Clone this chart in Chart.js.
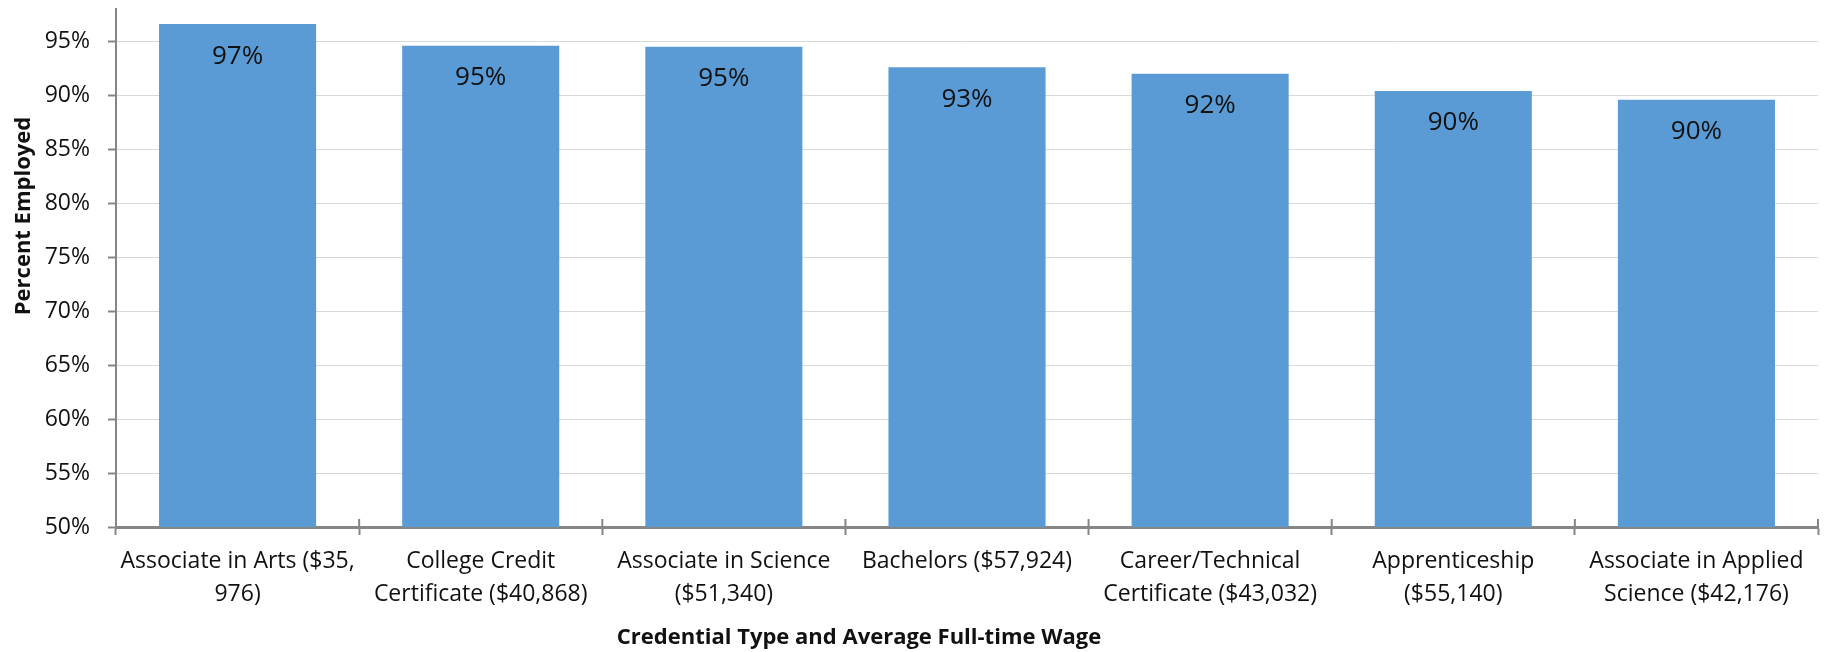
<!DOCTYPE html>
<html>
<head>
<meta charset="utf-8">
<script src="https://cdn.jsdelivr.net/npm/chart.js@4"></script>
<style>
  html, body { margin: 0; padding: 0; background: #ffffff; }
  #wrap { width: 1825px; height: 652px; position: relative; }
</style>
</head>
<body>
<div id="wrap"><canvas id="c" width="1825" height="652"></canvas></div>
<script>
// ---- data ----
const categories = [
  ["Associate in Arts ($35,", "976)"],
  ["College Credit", "Certificate ($40,868)"],
  ["Associate in Science", "($51,340)"],
  ["Bachelors ($57,924)"],
  ["Career/Technical", "Certificate ($43,032)"],
  ["Apprenticeship", "($55,140)"],
  ["Associate in Applied", "Science ($42,176)"]
];
const percentEmployed = [96.6, 94.6, 94.5, 92.6, 92.0, 90.4, 89.6];
const yTickValues = [50, 55, 60, 65, 70, 75, 80, 85, 90, 95];
const xAxisTitle = "Credential Type and Average Full-time Wage";
const yAxisTitle = "Percent Employed";

const AXIS_GRAY = '#868686';
const GRID_GRAY = '#d9d9d9';
const BAR_BLUE = '#5b9bd5';
const TEXT = '#111111';

const valueLabels = {
  id: 'valueLabels',
  afterDatasetsDraw(chart) {
    const ctx = chart.ctx;
    const meta = chart.getDatasetMeta(0);
    ctx.save();
    ctx.font = '26px "Open Sans"';
    ctx.fillStyle = TEXT;
    ctx.textAlign = 'center';
    ctx.textBaseline = 'middle';
    meta.data.forEach((el, i) => {
      const v = chart.data.datasets[0].data[i];
      ctx.fillText(Math.round(v) + '%', el.x, el.y + 32);
    });
    ctx.restore();
  }
};

const extras = {
  id: 'extras',
  afterDraw(chart) {
    const ctx = chart.ctx;
    const area = chart.chartArea;
    const n = categories.length;
    // inner part of x-axis tick marks (they cross the axis)
    ctx.save();
    ctx.strokeStyle = AXIS_GRAY;
    ctx.lineWidth = 2;
    for (let i = 0; i <= n; i++) {
      const x = area.left + (area.right - area.left) * i / n;
      ctx.beginPath();
      ctx.moveTo(x, area.bottom - 8);
      ctx.lineTo(x, area.bottom);
      ctx.stroke();
    }
    ctx.restore();
    // axis titles
    ctx.save();
    ctx.fillStyle = TEXT;
    ctx.font = 'bold 22px "Open Sans"';
    ctx.textAlign = 'center';
    ctx.textBaseline = 'middle';
    ctx.fillText(xAxisTitle, 859, 638);
    ctx.translate(24, 216);
    ctx.rotate(-Math.PI / 2);
    ctx.fillText(yAxisTitle, 0, 0);
    ctx.restore();
  }
};

new Chart(document.getElementById('c'), {
  type: 'bar',
  data: {
    labels: categories,
    datasets: [{
      data: percentEmployed,
      backgroundColor: BAR_BLUE,
      borderWidth: 0,
      barPercentage: 0.646,
      categoryPercentage: 1.0
    }]
  },
  options: {
    responsive: false,
    animation: false,
    devicePixelRatio: 1,
    layout: { padding: { left: 0, top: 9, right: 7, bottom: 0 } },
    plugins: {
      legend: { display: false },
      tooltip: { enabled: false },
      title: { display: false }
    },
    scales: {
      x: {
        type: 'category',
        offset: true,
        grid: {
          display: true,
          offset: true,
          drawOnChartArea: false,
          drawTicks: true,
          tickLength: 8,
          tickColor: AXIS_GRAY,
          tickWidth: 2
        },
        border: { display: true, color: AXIS_GRAY, width: 3 },
        ticks: {
          color: TEXT,
          font: { family: 'Open Sans', size: 23, lineHeight: 1.42 },
          padding: 10,
          maxRotation: 0,
          minRotation: 0,
          autoSkip: false
        },
        afterFit(s) { s.height = 125; s.paddingLeft = 0; s.paddingRight = 0; }
      },
      y: {
        type: 'linear',
        min: 50,
        max: 98,
        afterBuildTicks(s) {
          s.ticks = yTickValues.map(v => ({ value: v }));
        },
        grid: {
          color: GRID_GRAY,
          lineWidth: 1,
          drawTicks: true,
          tickLength: 8,
          tickColor: AXIS_GRAY,
          tickWidth: 2
        },
        border: { display: true, color: AXIS_GRAY, width: 2 },
        ticks: {
          color: TEXT,
          font: { family: 'Open Sans', size: 23 },
          padding: 18,
          callback: v => v + '%'
        },
        afterFit(s) { s.width = 116; s.paddingTop = 0; s.paddingBottom = 0; }
      }
    }
  },
  plugins: [valueLabels, extras]
});
</script>
</body>
</html>
